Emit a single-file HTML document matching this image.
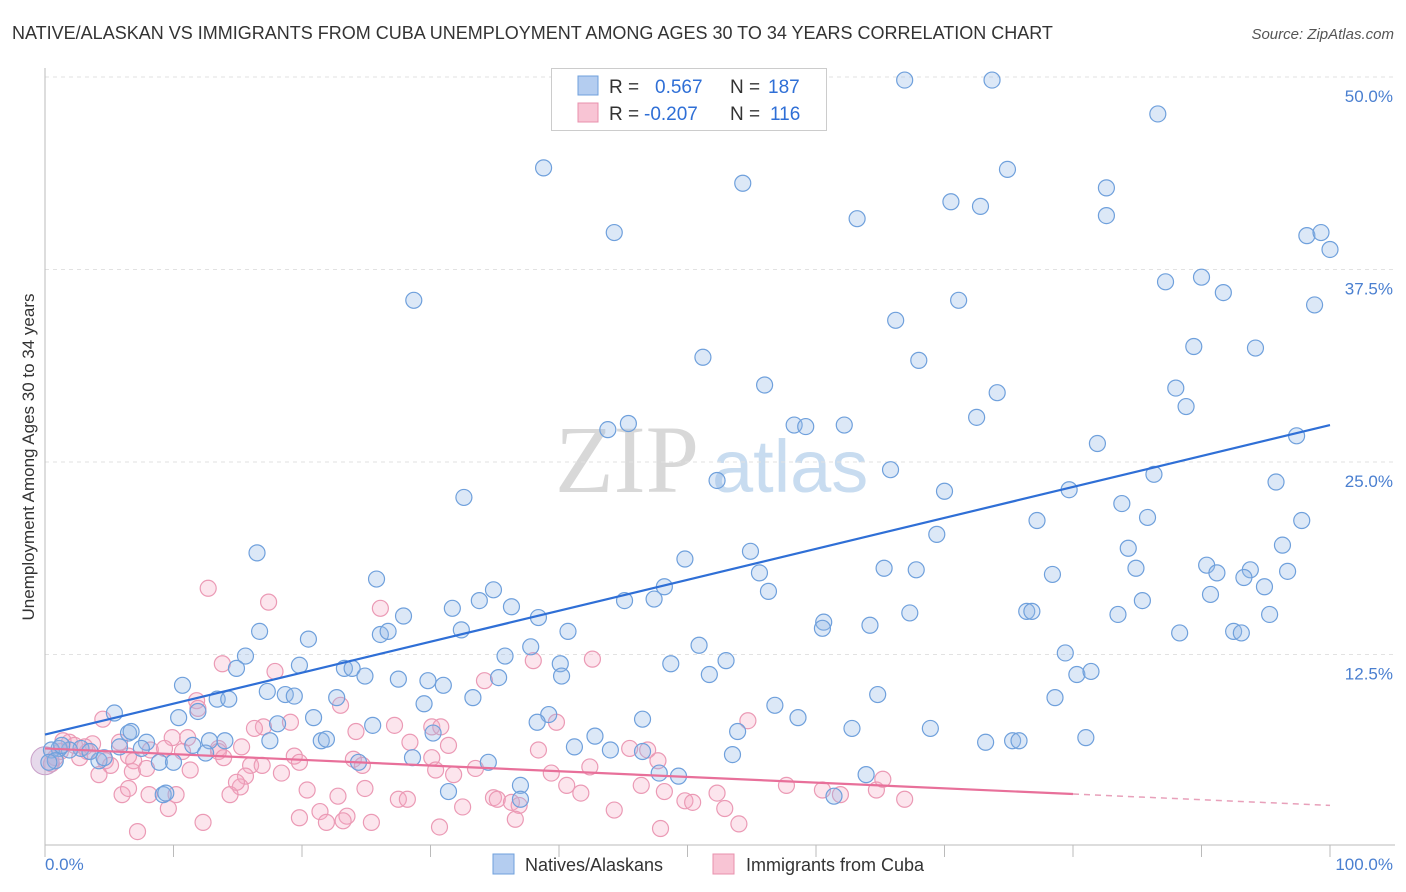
<!DOCTYPE html>
<html><head><meta charset="utf-8"><style>
body{margin:0;background:#fff;font-family:"Liberation Sans",sans-serif;}
#wrap{position:relative;width:1406px;height:892px;overflow:hidden;}
</style></head><body>
<div id="wrap">
<svg id="svg" width="1406" height="892" xmlns="http://www.w3.org/2000/svg">
<text x="12" y="39" font-size="18" fill="#333">NATIVE/ALASKAN VS IMMIGRANTS FROM CUBA UNEMPLOYMENT AMONG AGES 30 TO 34 YEARS CORRELATION CHART</text>
<text x="1394" y="39" font-size="15" fill="#555" font-style="italic" text-anchor="end">Source: ZipAtlas.com</text>
<g>
<text x="555" y="492" font-size="96" font-family="Liberation Serif,serif" fill="#d8d8d8">ZIP</text>
<text x="712" y="492" font-size="74" fill="#c8dcf0">atlas</text>
</g>
<g id="grid"></g>
<g id="axes"></g>
<g id="pinkpts"></g>
<g id="bluepts"></g>
<g id="lines"></g>
<text transform="translate(34,457) rotate(-90)" font-size="17" fill="#333" text-anchor="middle">Unemployment Among Ages 30 to 34 years</text>
<text x="45" y="870" font-size="17" fill="#4a7fd0">0.0%</text>
<text x="1393" y="870" font-size="17" fill="#4a7fd0" text-anchor="end">100.0%</text>
<g>
<rect x="551.5" y="68.5" width="275" height="62" fill="#fff" stroke="#ccc"/>
<rect x="578" y="76" width="20" height="19" fill="#b4cdf0" stroke="#6fa0dc"/>
<rect x="578" y="103" width="20" height="19" fill="#f8c4d4" stroke="#e890ad"/>
<text x="609" y="93" font-size="19" fill="#333">R = <tspan x="655" fill="#2f6fd6">0.567</tspan><tspan x="730" fill="#333">N = </tspan><tspan x="768" fill="#2f6fd6">187</tspan></text>
<text x="609" y="120" font-size="19" fill="#333">R = <tspan x="644" fill="#2f6fd6">-0.207</tspan><tspan x="730" fill="#333">N = </tspan><tspan x="770" fill="#2f6fd6">116</tspan></text>
</g>
<g>
<rect x="493" y="854" width="21" height="20" fill="#b4cdf0" stroke="#6fa0dc"/>
<text x="525" y="871" font-size="18" fill="#333">Natives/Alaskans</text>
<rect x="713" y="854" width="21" height="20" fill="#f8c4d4" stroke="#e890ad"/>
<text x="746" y="871" font-size="18" fill="#333">Immigrants from Cuba</text>
</g>
</svg>
</div>
<script>
const yTicks=[12.5,25,37.5,50];
const yTickLabels=["12.5%","25.0%","37.5%","50.0%"];
const xTicks=[0,10,20,30,40,50,60,70,80,90,100];
const blueX=[66.9,73.7,86.6,38.8,54.3,74.9,82.6,70.5,72.8,63.2,82.6,44.3,98.2,99.3,100,28.7,87.2,90.0,91.7,71.1,98.8,66.2,51.2,68.0,89.4,94.2,56.0,74.1,88.0,88.8,72.5,45.4,43.8,58.3,59.2,62.2,81.9,97.4,65.8,86.3,52.3,70.0,79.7,32.6,95.8,83.8,85.8,77.2,97.8,69.4,16.5,49.8,54.9,84.3,96.3,55.6,65.3,67.8,78.4,84.9,90.4,91.2,93.8,93.3,96.7,25.8,34.9,48.2,56.3,45.1,47.4,85.4,90.7,94.9,27.9,31.7,33.8,36.3,38.4,60.6,60.5,64.2,67.3,76.4,76.8,83.5,95.3,16.7,20.5,26.1,26.7,32.4,40.7,37.8,50.9,88.3,92.5,93.1,15.6,35.8,40.1,48.7,53.0,79.4,14.9,19.8,23.3,23.9,24.9,27.5,29.8,31.0,35.3,40.2,51.7,80.3,81.4,10.7,17.3,18.7,19.4,22.7,33.3,29.5,13.4,14.3,11.9,5.4,10.4,20.9,56.8,64.8,78.6,39.2,46.5,58.6,25.5,6.5,6.7,30.2,38.3,62.8,68.9,53.9,12.8,14.0,17.5,21.5,21.9,18.1,42.8,81.0,73.2,75.3,75.8,7.9,11.5,41.2,44.0,46.5,53.5,28.6,34.5,24.4,12.5,8.9,10.0,4.2,4.6,7.5,5.8,2.8,1.9,1.1,0.5,1.3,3.5,0.8,0.3,37.0,47.8,49.3,63.9,61.4,31.4,37.0,9.2,9.4];
const blueY=[49.8,49.8,47.6,44.1,43.1,44.0,42.8,41.9,41.6,40.8,41.0,39.9,39.7,39.9,38.8,35.5,36.7,37.0,36.0,35.5,35.2,34.2,31.8,31.6,32.5,32.4,30.0,29.5,29.8,28.6,27.9,27.5,27.1,27.4,27.3,27.4,26.2,26.7,24.5,24.2,23.8,23.1,23.2,22.7,23.7,22.3,21.4,21.2,21.2,20.3,19.1,18.7,19.2,19.4,19.6,17.8,18.1,18.0,17.7,18.1,18.3,17.8,18.0,17.5,17.9,17.4,16.7,16.9,16.6,16.0,16.1,16.0,16.4,16.9,15.0,15.5,16.0,15.6,14.9,14.6,14.2,14.4,15.2,15.3,15.3,15.1,15.1,14.0,13.5,13.8,14.0,14.1,14.0,13.0,13.1,13.9,14.0,13.9,12.4,12.4,11.9,11.9,12.1,12.6,11.6,11.8,11.6,11.6,11.1,10.9,10.8,10.5,11.0,11.1,11.2,11.2,11.4,10.5,10.1,9.9,9.8,9.7,9.7,9.3,9.6,9.6,8.8,8.7,8.4,8.4,9.2,9.9,9.7,8.6,8.3,8.4,7.9,7.4,7.5,7.4,8.1,7.7,7.7,7.5,6.9,6.9,6.9,6.9,7.0,8.0,7.2,7.1,6.8,6.9,6.9,6.8,6.6,6.5,6.3,6.2,6.0,5.8,5.5,5.5,6.1,5.5,5.5,5.6,5.8,6.4,6.5,6.4,6.3,6.4,6.3,6.6,6.2,5.6,5.5,4.0,4.8,4.6,4.7,3.3,3.6,3.1,3.4,3.5];
const pinkX=[12.7,26.1,17.4,13.8,17.9,38.0,42.6,34.2,11.8,23.0,4.5,11.9,19.1,17.0,16.3,30.1,30.8,39.8,54.7,27.2,24.2,9.9,11.1,5.8,3.7,1.9,1.2,3.3,2.7,4.7,5.1,6.9,6.5,8.2,13.5,15.3,13.5,10.7,9.3,28.4,31.4,38.4,45.5,46.9,47.7,19.4,19.8,24.0,24.7,30.1,33.5,16.0,16.9,13.9,11.3,6.8,7.9,4.2,0.5,0.8,15.6,18.4,39.4,42.4,24.9,27.5,28.2,30.4,31.8,34.9,35.2,36.3,32.5,6.0,6.5,8.1,10.2,15.2,14.4,14.9,22.8,20.4,36.9,40.6,41.7,46.4,48.2,49.8,50.4,52.3,52.9,57.7,60.5,64.7,65.2,66.9,61.9,9.6,21.4,23.5,23.2,21.9,19.8,25.4,30.7,36.6,44.3,54.0,47.9,7.2,12.3,1.4,2.3,3.1];
const pinkY=[16.8,15.5,15.9,11.9,11.4,12.1,12.2,10.8,9.5,9.2,8.3,9.0,8.1,7.8,7.7,7.8,7.8,8.1,8.2,7.9,7.5,7.1,7.1,6.8,6.7,6.8,6.2,6.2,5.8,5.6,5.3,5.6,5.9,6.3,6.4,6.5,6.2,6.2,6.4,6.8,6.6,6.3,6.4,6.3,5.6,5.9,5.5,5.7,5.3,5.8,5.1,5.3,5.3,5.8,5.0,4.9,5.1,4.7,5.4,5.8,4.6,4.8,4.8,5.2,3.8,3.1,3.1,5.0,4.7,3.2,3.1,2.9,2.6,3.4,3.8,3.4,3.4,3.9,3.4,4.2,3.3,3.7,2.7,4.0,3.5,4.0,3.6,3.0,2.9,3.5,2.5,4.0,3.7,3.7,4.4,3.1,3.4,2.5,2.3,2.0,1.7,1.6,1.9,1.6,1.3,1.8,2.4,1.5,1.2,1.0,1.6,6.9,6.6,6.5];
const blueTrend=[7.3,27.4];
const pinkTrend=[6.4,2.7];
const pinkSolidEnd=80;

const NS="http://www.w3.org/2000/svg";
const X0=45,X1=1330,Y0=847,PXPER=15.4;
function xs(v){return X0+(X1-X0)*v/100;}
function ys(v){return Y0-v*PXPER;}
function mk(tag,attrs,parent){const e=document.createElementNS(NS,tag);for(const k in attrs)e.setAttribute(k,attrs[k]);parent.appendChild(e);return e;}
const grid=document.getElementById('grid'),axes=document.getElementById('axes');
yTicks.forEach((t,i)=>{
  const l=mk('line',{x1:45,x2:1395,y1:ys(t),y2:ys(t),stroke:'#e2e2e2','stroke-dasharray':'4,4'},grid);
  
  
  const tx=mk('text',{x:1393,y:ys(t)+25,'font-size':17,fill:'#4a7fd0','text-anchor':'end'},axes);
  tx.textContent=yTickLabels[i];
  
  
});
const ya=mk('line',{x1:45,x2:45,y1:68,y2:845,stroke:'#bbb'},axes);


const xa=mk('line',{x1:45,x2:1395,y1:845,y2:845,stroke:'#bbb'},axes);


xTicks.forEach(t=>{
  const l=mk('line',{x1:xs(t),x2:xs(t),y1:845,y2:857,stroke:'#bbb'},axes);
  
  
});
const bp=document.getElementById('bluepts'),pp=document.getElementById('pinkpts');
pinkX.forEach((x,i)=>{
  const c=mk('circle',{cx:xs(x),cy:ys(pinkY[i]),r:8,fill:'rgba(244,170,195,0.3)',stroke:'#eb9ab5','stroke-width':1.2},pp);
  
  
});
blueX.forEach((x,i)=>{
  const c=mk('circle',{cx:xs(x),cy:ys(blueY[i]),r:8,fill:'rgba(150,185,232,0.33)',stroke:'#6fa0dc','stroke-width':1.2},bp);
  
  
});
const big=mk('circle',{cx:xs(0),cy:ys(5.6),r:14,fill:'rgba(200,170,210,0.45)',stroke:'#c9a0c8'},pp);


const L=document.getElementById('lines');
const bl=mk('line',{x1:xs(0),y1:ys(blueTrend[0]),x2:xs(100),y2:ys(blueTrend[1]),stroke:'#2f6fd6','stroke-width':2.2},L);


const pAt=v=>pinkTrend[0]+(pinkTrend[1]-pinkTrend[0])*v/100;
const pl=mk('line',{x1:xs(0),y1:ys(pinkTrend[0]),x2:xs(pinkSolidEnd),y2:ys(pAt(pinkSolidEnd)),stroke:'#e8709a','stroke-width':2.2},L);


const pd=mk('line',{x1:xs(pinkSolidEnd),y1:ys(pAt(pinkSolidEnd)),x2:xs(100),y2:ys(pinkTrend[1]),stroke:'#e8a0ba','stroke-width':1.5,'stroke-dasharray':'6,5'},L);


</script>
</body></html>
